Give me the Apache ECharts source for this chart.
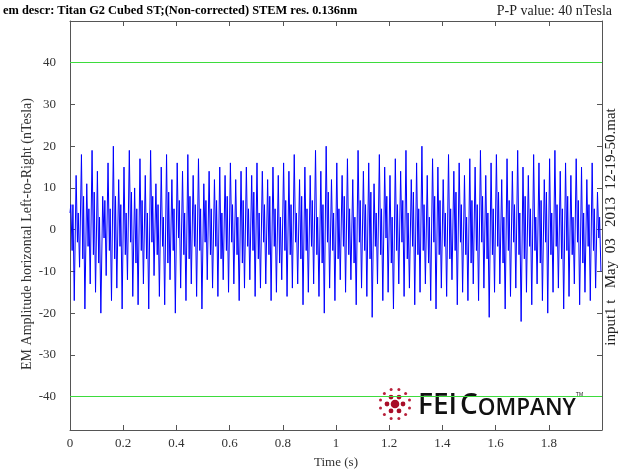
<!DOCTYPE html>
<html>
<head>
<meta charset="utf-8">
<script src="https://cdn.jsdelivr.net/npm/echarts@6/dist/echarts.min.js"></script>
<style>
  html, body { margin: 0; padding: 0; background: #fff; }
  #chart { width: 618px; height: 471px; }
</style>
</head>
<body>
<div id="chart"></div>
<script>
// one entry per 20 ms mains cycle (nTesla)
const cycleSec = 0.02;
const peaks = [
  6, 13, 18, 11, 19, 14, 8, 16, 20, 12, 15, 19, 10,
  17, 13, 19, 11, 15, 18, 12, 16, 14, 18, 13, 17, 11,
  14, 12, 15, 13, 16, 12, 14, 15, 13, 16, 14, 12, 15, 13, 16, 14, 18, 12, 15, 13, 19, 14, 20, 12, 16,
  13, 17, 12, 19, 14, 16, 11, 18, 15, 13, 17, 14, 19, 12, 16, 20, 13, 17, 15, 12, 18, 14, 16, 13, 17,
  15, 19, 13, 16, 18, 12, 17, 14, 19, 15, 13, 18, 16, 12, 17, 19, 14, 16, 13, 17, 15, 12, 16, 9
];
// small dip and rebound between peak and trough
const midLow = [
  -5, -3, -7, -4, -6, -8, -2, -5, -7, -4, -6, -3, -8,
  -5, -7, -3, -6, -4, -8, -5, -2, -6, -7, -4, -5, -3,
  -6, -4, -7, -5, -3, -6, -8, -4, -5, -7, -3, -6, -4, -8, -5, -6, -3, -7, -5, -4, -6, -8, -3, -5, -7,
  -4, -6, -8, -3, -5, -7, -4, -6, -2, -8, -5, -3, -7, -4, -6, -5, -8, -3, -6, -4, -7, -5, -3, -6, -8,
  -5, -3, -7, -6, -4, -8, -5, -3, -6, -7, -4, -5, -8, -3, -6, -4, -7, -5, -6, -3, -8, -4, -5, -2
];
const midHigh = [
  6, 4, 8, 5, 9, 3, 7, 5, 8, 6, 4, 9, 5,
  7, 4, 8, 6, 3, 9, 5, 7, 4, 8, 6, 5, 7,
  5, 7, 4, 8, 6, 3, 7, 5, 9, 4, 6, 8, 5, 3, 7, 6, 4, 8, 5, 7, 3, 6, 9, 4, 5,
  8, 5, 3, 7, 6, 9, 4, 5, 8, 3, 6, 7, 4, 9, 5, 6, 3, 8, 7, 4, 5, 9, 6, 3, 7,
  6, 8, 4, 5, 9, 3, 7, 6, 4, 8, 5, 3, 7, 9, 4, 6, 5, 8, 3, 7, 4, 6, 5, 3
];
const troughs = [
  -17, -9, -19, -13, -15, -20, -11, -17, -14, -19, -12, -16, -18,
  -13, -19, -11, -16, -18, -12, -20, -14, -17, -13, -16, -19, -12,
  -14, -16, -12, -15, -13, -17, -14, -12, -16, -14, -13, -17, -15, -12, -16, -14, -13, -18, -15, -13, -16, -20, -14, -17, -12,
  -15, -12, -18, -14, -16, -21, -13, -17, -15, -19, -13, -16, -14, -18, -15, -13, -17, -19, -14, -16, -12, -18, -15, -17, -13,
  -17, -14, -21, -15, -13, -19, -16, -14, -22, -15, -18, -13, -17, -20, -15, -14, -19, -16, -13, -18, -15, -17, -14, -10
];
const startValue = 4;
const limitLines = [40, -40];
const xTicks = [0, 0.2, 0.4, 0.6, 0.8, 1, 1.2, 1.4, 1.6, 1.8];
const yTicks = [-40, -30, -20, -10, 0, 10, 20, 30, 40];

// build the trace, four turning points per cycle
const trace = [[0, startValue]];
for (let i = 0; i < peaks.length; i++) {
  const t0 = i * cycleSec;
  trace.push([t0 + cycleSec * 0.15, peaks[i]]);
  trace.push([t0 + cycleSec * 0.40, midLow[i]]);
  trace.push([t0 + cycleSec * 0.55, midHigh[i]]);
  trace.push([t0 + cycleSec * 0.80, troughs[i]]);
}

const serif = '"Liberation Serif", "DejaVu Serif", serif';
const axisColor = '#555';
const labelStyle = { fontFamily: serif, fontSize: 13, color: '#333' };

// FEI logo dots
const logoCx = 395, logoCy = 404, red = '#a80d28';
const logoDots = [{ type: 'circle', shape: { cx: logoCx, cy: logoCy, r: 4.3 }, style: { fill: red } }];
for (let k = 0; k < 6; k++) {
  const a = k * Math.PI / 3;
  logoDots.push({ type: 'circle', shape: { cx: logoCx + 8 * Math.cos(a), cy: logoCy + 8 * Math.sin(a), r: 2.4 }, style: { fill: red } });
}
for (let k = 0; k < 12; k++) {
  const a = k * Math.PI / 6 + Math.PI / 12;
  logoDots.push({ type: 'circle', shape: { cx: logoCx + 15 * Math.cos(a), cy: logoCy + 15 * Math.sin(a), r: 1.5 }, style: { fill: '#b8213b' } });
}

const boxAxis = {
  axisLine: { show: true, onZero: false, lineStyle: { color: axisColor } },
  axisTick: { inside: true, length: 5, lineStyle: { color: axisColor } },
  splitLine: { show: false }
};
const yTickOpt = { ...boxAxis.axisTick, customValues: yTicks };

const chart = echarts.init(document.getElementById('chart'));
chart.setOption({
  animation: false,
  backgroundColor: '#fff',
  grid: { left: 70, right: 16, top: 21, bottom: 41, containLabel: false, outerBoundsMode: 'none' },
  xAxis: [
    {
      type: 'value', min: 0, max: 2, interval: 0.2, ...boxAxis,
      name: 'Time (s)', nameLocation: 'middle', nameGap: 26,
      nameTextStyle: { fontFamily: serif, fontSize: 13, color: '#333' },
      axisLabel: {
        ...labelStyle, margin: 7, showMaxLabel: false,
        formatter: v => xTicks.some(t => Math.abs(t - v) < 1e-6) ? String(Math.round(v * 10) / 10) : ''
      }
    },
    {
      type: 'value', position: 'top', min: 0, max: 2, interval: 0.2, ...boxAxis,
      axisLabel: { show: false }
    }
  ],
  yAxis: [
    {
      type: 'value', min: -48, max: 50, ...boxAxis, axisTick: yTickOpt,
      axisLabel: { ...labelStyle, margin: 14, customValues: yTicks }
    },
    {
      type: 'value', position: 'right', min: -48, max: 50, ...boxAxis, axisTick: yTickOpt,
      axisLabel: { show: false }
    }
  ],
  series: [
    {
      type: 'line', data: trace, showSymbol: false, symbol: 'none',
      lineStyle: { color: '#0000ff', width: 1 },
      markLine: {
        silent: true, symbol: 'none', label: { show: false },
        lineStyle: { color: '#3ddc3d', width: 1, type: 'solid' },
        data: limitLines.map(v => ({ yAxis: v }))
      }
    }
  ],
  graphic: [
    {
      type: 'text', left: 3, top: 5,
      style: {
        text: 'em descr: Titan G2 Cubed ST;(Non-corrected) STEM res. 0.136nm',
        fontFamily: serif, fontSize: 12.4, fontWeight: 'bold', fill: '#000'
      }
    },
    {
      type: 'text', right: 6, top: 4,
      style: { text: 'P-P value: 40 nTesla', fontFamily: serif, fontSize: 14, fill: '#222' }
    },
    {
      type: 'text', x: 20, y: 234, rotation: Math.PI / 2,
      style: {
        text: 'EM Amplitude horizontal Left-to-Right (nTesla)', fontFamily: serif, fontSize: 14, fill: '#333',
        align: 'center', verticalAlign: 'top'
      }
    },
    {
      type: 'text', x: 604, y: 227, rotation: Math.PI / 2,
      style: {
        text: 'input1 t   May  03   2013  12-19-50.mat', fontFamily: serif, fontSize: 15, fill: '#222',
        align: 'center', verticalAlign: 'top'
      }
    },
    ...logoDots,
    {
      type: 'text', x: 418, y: 392,
      style: { text: 'FEI', fontFamily: '"Open Sans", sans-serif', fontSize: 28, fontWeight: 600, fill: '#111', verticalAlign: 'top' }
    },
    {
      type: 'text', x: 460, y: 392,
      style: {
        text: '{c|C}{o|OMPANY}{t|TM}',
        rich: {
          c: { fontFamily: '"Open Sans", sans-serif', fontSize: 28, fontWeight: 600, fill: '#111', verticalAlign: 'bottom' },
          o: { fontFamily: '"Open Sans", sans-serif', fontSize: 22.5, fontWeight: 600, fill: '#111', verticalAlign: 'bottom' },
          t: { fontFamily: 'sans-serif', fontSize: 5, fill: '#111', verticalAlign: 'top' }
        }
      }
    }
  ]
});
</script>
</body>
</html>
